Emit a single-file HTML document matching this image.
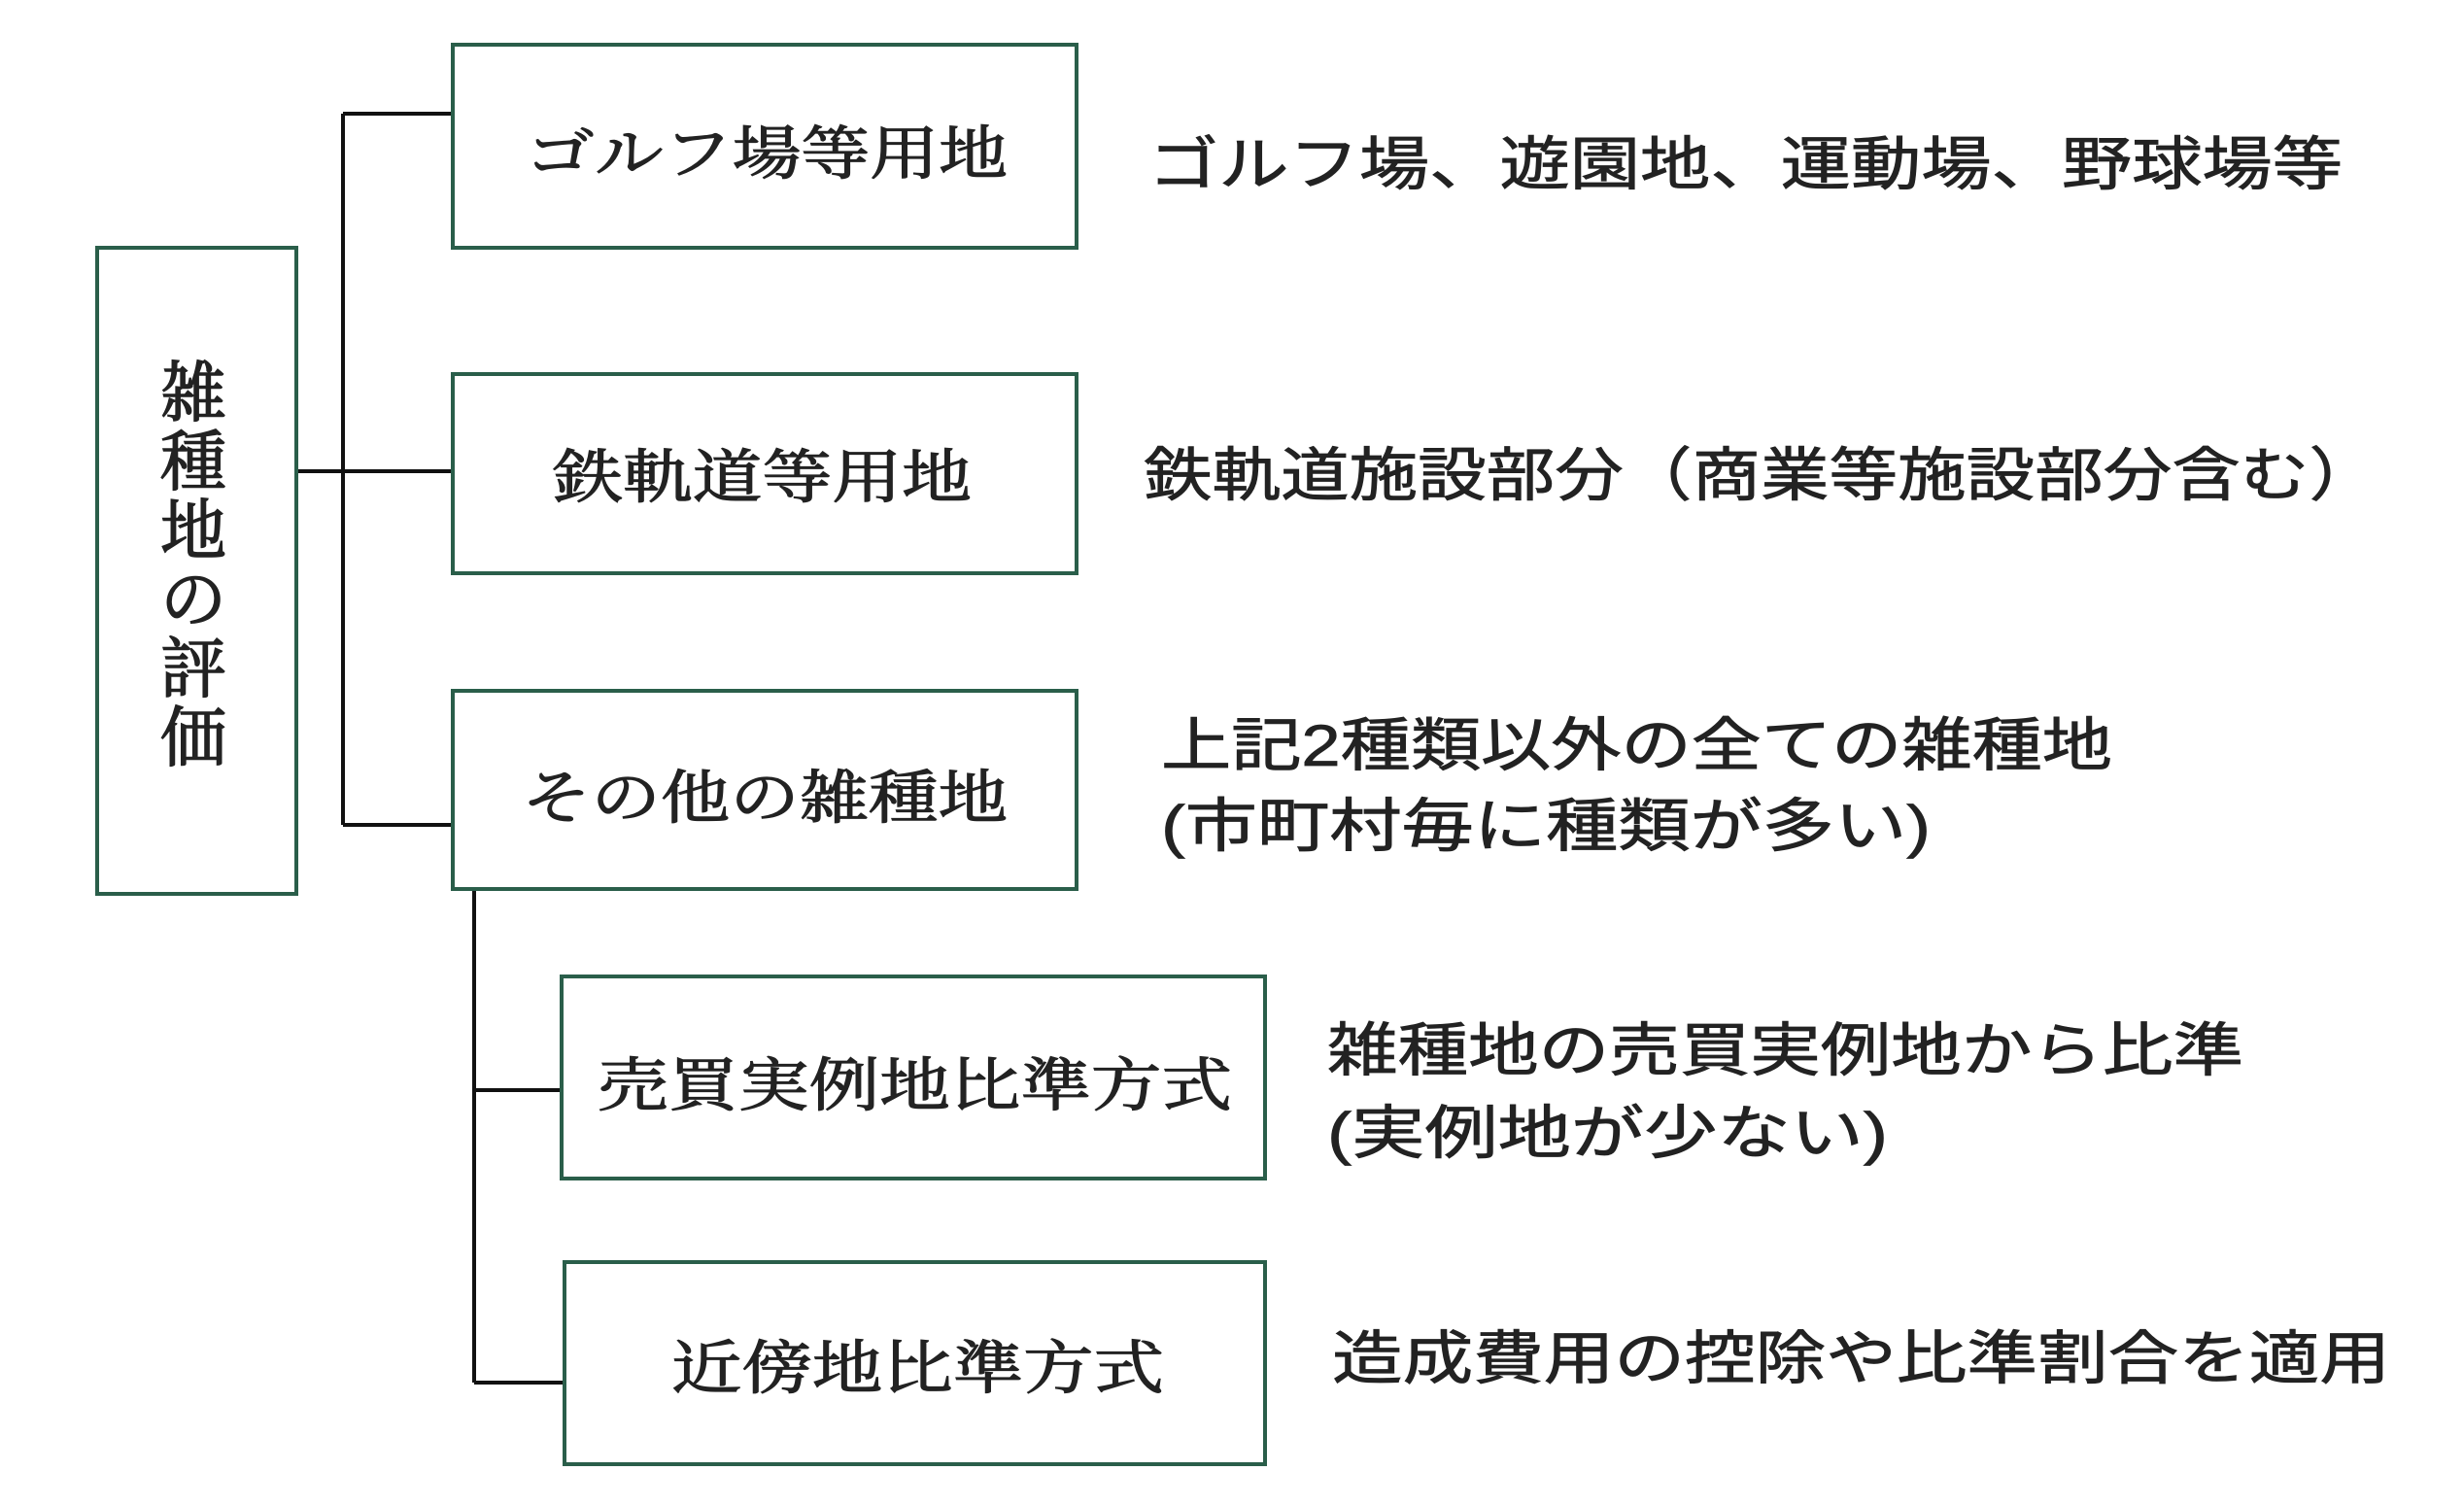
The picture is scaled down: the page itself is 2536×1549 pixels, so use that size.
<!DOCTYPE html>
<html><head><meta charset="utf-8"><style>
html,body{margin:0;padding:0;background:#fff;}
svg{display:block;}
.b{fill:#fff;stroke:#2a5e4a;stroke-width:4;}
.l{stroke:#111;stroke-width:4;fill:none;}
.m{font-family:"Liberation Serif","Noto Serif CJK SC",serif;font-size:60px;fill:#222;stroke:#222;stroke-width:1.2;}
.v{font-family:"Liberation Serif","Noto Serif CJK SC",serif;font-size:68px;fill:#222;stroke:#222;stroke-width:1.5;}
.g{font-family:"Liberation Sans","Noto Sans CJK JP",sans-serif;font-size:60px;fill:#222;stroke:#222;stroke-width:0.8;}
</style></head><body>
<svg width="2536" height="1549" viewBox="0 0 2536 1549" xmlns="http://www.w3.org/2000/svg">
<path class="l" d="M353 117 V849 M353 117 H467 M353 849 H467 M306 485 H467"/>
<path class="l" d="M488 915 V1423 M488 1122 H579 M488 1423 H582"/>
<rect class="b" x="100" y="255" width="205" height="665"/>
<rect class="b" x="466" y="46" width="642" height="209"/>
<rect class="b" x="466" y="385" width="642" height="205"/>
<rect class="b" x="466" y="711" width="642" height="204"/>
<rect class="b" x="578" y="1005" width="724" height="208"/>
<rect class="b" x="581" y="1299" width="721" height="208"/>
<g class="v" text-anchor="middle">
<text x="199" y="428">雑</text>
<text x="199" y="499">種</text>
<text x="199" y="570">地</text>
<text x="199" y="641">の</text>
<text x="199" y="712">評</text>
<text x="199" y="783">価</text>
</g>
<g class="m">
<text x="541" y="179" textLength="496" lengthAdjust="spacingAndGlyphs">ゴルフ場等用地</text>
<text x="569" y="512" textLength="431" lengthAdjust="spacingAndGlyphs">鉄軌道等用地</text>
<text x="537" y="842" textLength="500" lengthAdjust="spacingAndGlyphs">その他の雑種地</text>
<text x="615" y="1138" textLength="653" lengthAdjust="spacingAndGlyphs">売買実例地比準方式</text>
<text x="691" y="1429" textLength="507" lengthAdjust="spacingAndGlyphs">近傍地比準方式</text>
</g>
<g class="g">
<text x="1182" y="190" textLength="1229" lengthAdjust="spacingAndGlyphs">ゴルフ場、遊園地、運動場、野球場等</text>
<text x="1177" y="510" textLength="1270" lengthAdjust="spacingAndGlyphs">鉄軌道施設部分（商業等施設部分含む）</text>
<text x="1195" y="788" textLength="979" lengthAdjust="spacingAndGlyphs">上記2種類以外の全ての雑種地</text>
<text x="1195" y="871" textLength="792" lengthAdjust="spacingAndGlyphs">(市町村毎に種類が多い)</text>
<text x="1366" y="1102" textLength="943" lengthAdjust="spacingAndGlyphs">雑種地の売買実例地から比準</text>
<text x="1366" y="1187" textLength="577" lengthAdjust="spacingAndGlyphs">(実例地が少ない)</text>
<text x="1371" y="1419" textLength="1089" lengthAdjust="spacingAndGlyphs">造成費用の控除や比準割合を適用</text>
</g>
</svg>
</body></html>
